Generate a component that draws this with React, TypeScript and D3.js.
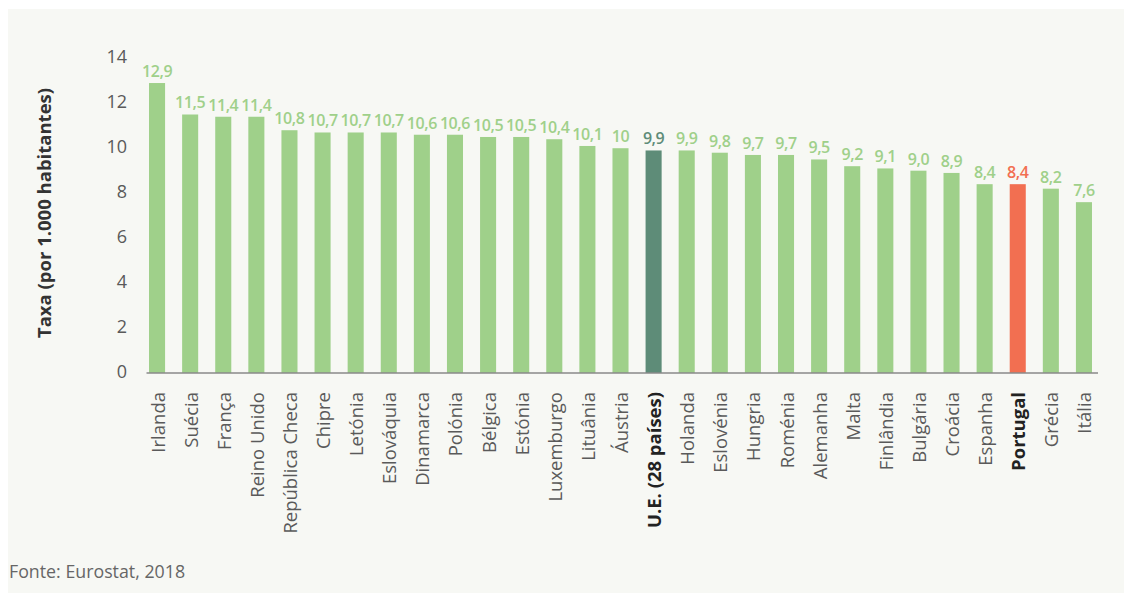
import React from "react";
import * as d3 from "d3";

const categories = [
  "Irlanda", "Suécia", "França", "Reino Unido", "República Checa", "Chipre", "Letónia",
  "Eslováquia", "Dinamarca", "Polónia", "Bélgica", "Estónia", "Luxemburgo", "Lituânia",
  "Áustria", "U.E. (28 países)", "Holanda", "Eslovénia", "Hungria", "Roménia", "Alemanha",
  "Malta", "Finlândia", "Bulgária", "Croácia", "Espanha", "Portugal", "Grécia", "Itália",
];
const values = [
  12.9, 11.5, 11.4, 11.4, 10.8, 10.7, 10.7, 10.7, 10.6, 10.6, 10.5, 10.5, 10.4, 10.1,
  10, 9.9, 9.9, 9.8, 9.7, 9.7, 9.5, 9.2, 9.1, 9.0, 8.9, 8.4, 8.4, 8.2, 7.6,
];
const valueLabels = [
  "12,9", "11,5", "11,4", "11,4", "10,8", "10,7", "10,7", "10,7", "10,6", "10,6", "10,5",
  "10,5", "10,4", "10,1", "10", "9,9", "9,9", "9,8", "9,7", "9,7", "9,5", "9,2", "9,1",
  "9,0", "8,9", "8,4", "8,4", "8,2", "7,6",
];
const yTicks = [0, 2, 4, 6, 8, 10, 12, 14];
const highlightEU = "U.E. (28 países)";
const highlightPT = "Portugal";

const W = 1124;
const H = 585;
const FONT = "'Open Sans', 'Noto Sans', sans-serif";

export default function App() {
  const x = d3
    .scaleBand<string>()
    .domain(categories)
    .range([132.5, 1092.5])
    .paddingInner(0.515)
    .paddingOuter(0.2575);
  const y = d3.scaleLinear().domain([0, 14]).range([365, 50.3]);

  const barColor = (c: string) =>
    c === highlightEU ? "#5e8c78" : c === highlightPT ? "#f26f51" : "#9fd08a";

  return (
    <svg width={W} height={H} style={{ display: "block" }} fontFamily={FONT}>
      <rect x={0} y={1} width={W} height={H - 1} fill="#f7f8f4" />
      {yTicks.map((t) => (
        <text
          key={t}
          x={119}
          y={y(t) - 2}
          textAnchor="end"
          dominantBaseline="central"
          fontSize={18}
          fill="#5a5a5a"
        >
          {t}
        </text>
      ))}
      <text
        transform={`translate(35,${205}) rotate(-90)`}
        textAnchor="middle"
        fontSize={18.5}
        fontWeight={700}
        fill="#333"
        dominantBaseline="central"
      >
        Taxa (por 1.000 habitantes)
      </text>
      {categories.map((c, i) => (
        <rect
          key={c}
          x={x(c)}
          y={y(values[i])}
          width={x.bandwidth()}
          height={y(0) - y(values[i])}
          fill={barColor(c)}
        />
      ))}
      <line x1={138.5} x2={1090} y1={y(0)} y2={y(0)} stroke="#8a8a8a" strokeWidth={1.5} />
      {categories.map((c, i) => (
        <text
          key={"v" + c}
          x={(x(c) ?? 0) + x.bandwidth() / 2}
          y={y(values[i]) - 6}
          textAnchor="middle"
          fontSize={16}
          fontWeight={600}
          letterSpacing={-0.4}
          fill={barColor(c)}
        >
          {valueLabels[i]}
        </text>
      ))}
      {categories.map((c) => {
        const bold = c === highlightEU || c === highlightPT;
        return (
          <text
            key={"c" + c}
            transform={`translate(${(x(c) ?? 0) + x.bandwidth() / 2},${384}) rotate(-90)`}
            textAnchor="end"
            dominantBaseline="central"
            fontSize={18.5}
            fontWeight={bold ? 700 : 400}
            fill={bold ? "#222" : "#5a5a5a"}
          >
            {c}
          </text>
        );
      })}
      <text x={1} y={570} fontSize={17.8} fill="#666">
        Fonte: Eurostat, 2018
      </text>
    </svg>
  );
}
